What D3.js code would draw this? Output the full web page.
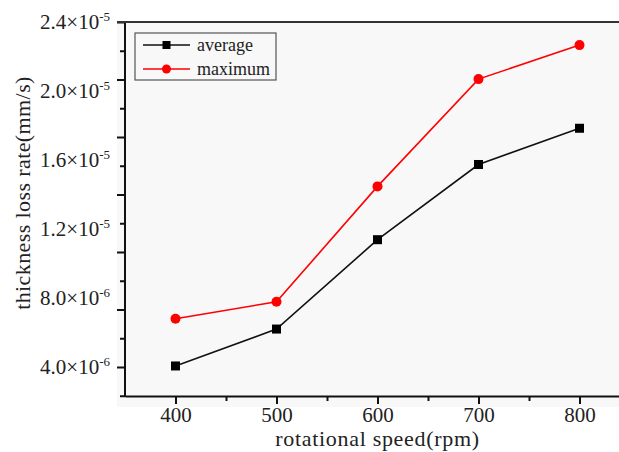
<!DOCTYPE html>
<html>
<head>
<meta charset="utf-8">
<script src="https://cdn.jsdelivr.net/npm/d3@7"></script>
<style>
  body { margin: 0; background: #fff; }
  text { font-family: "Liberation Serif", "DejaVu Serif", serif; fill: #222; }
</style>
</head>
<body>
<div id="chart"></div>
<script>
// data
var speeds = [400, 500, 600, 700, 800];
var averageRate = [4.06e-6, 6.2e-6, 1.138e-5, 1.574e-5, 1.784e-5];
var maximumRate = [6.8e-6, 7.78e-6, 1.447e-5, 2.069e-5, 2.266e-5];
var xTicks = [400, 500, 600, 700, 800];
var yLabels = [4e-6, 8e-6, 1.2e-5, 1.6e-5, 2.0e-5, 2.4e-5];

var svgWidth = 619;
var svgHeight = 452;
var plot = { left: 125, top: 22, right: 619, bottom: 396 };

var svg = d3.select("#chart")
  .append("svg")
  .attr("width", svgWidth)
  .attr("height", svgHeight);

// grey plot background
svg.append("rect")
  .attr("x", 117).attr("y", 21)
  .attr("width", svgWidth - 117).attr("height", 407 - 21)
  .attr("fill", "#f8f8f8");

var xScale = d3.scaleLinear()
  .domain([350, 850])
  .range([plot.left, plot.left + 505]);

// 4.0e-6 sits on y=367, 2.4e-5 on the top border
var yScale = d3.scaleLinear()
  .domain([4e-6, 2.4e-5])
  .range([367, plot.top]);

// x axis: major + minor ticks
var xMinor = d3.range(450, 850, 100);
svg.append("g")
  .attr("transform", `translate(0, ${plot.bottom})`)
  .call(d3.axisBottom(xScale).tickValues(xMinor).tickSize(5).tickFormat(""))
  .call(g => g.select(".domain").remove())
  .call(g => g.selectAll("line").attr("stroke", "#111").attr("stroke-width", 2));

var xAxis = svg.append("g")
  .attr("transform", `translate(0, ${plot.bottom})`)
  .call(d3.axisBottom(xScale).tickValues(xTicks).tickSize(8).tickPadding(3).tickSizeOuter(0));
xAxis.select(".domain").attr("stroke", "#111").attr("stroke-width", 2);
xAxis.selectAll("line").attr("stroke", "#111").attr("stroke-width", 2);
xAxis.selectAll("text")
  .attr("font-size", 21)
  .style("font-family", "Liberation Serif, serif")
  .attr("fill", "#222");

// y axis ticks: 12 even steps between the bottom and top labels
var step = (2.4e-5 - 4e-6) / 12;
var yMajor = d3.range(0, 7).map(i => 4e-6 + i * 2 * step);
var yMinor = d3.range(0, 7).map(i => 4e-6 + (i * 2 - 1) * step);

svg.append("g")
  .attr("transform", `translate(${plot.left}, 0)`)
  .call(d3.axisLeft(yScale).tickValues(yMinor).tickSize(5).tickFormat(""))
  .call(g => g.select(".domain").remove())
  .call(g => g.selectAll("line").attr("stroke", "#111").attr("stroke-width", 2));

svg.append("g")
  .attr("transform", `translate(${plot.left}, 0)`)
  .call(d3.axisLeft(yScale).tickValues(yMajor).tickSize(8).tickFormat(""))
  .call(g => g.select(".domain").remove())
  .call(g => g.selectAll("line").attr("stroke", "#111").attr("stroke-width", 2));

// y axis line
svg.append("line")
  .attr("x1", plot.left).attr("x2", plot.left)
  .attr("y1", plot.top).attr("y2", plot.bottom + 1)
  .attr("stroke", "#111").attr("stroke-width", 2);

// top frame line
svg.append("line")
  .attr("x1", plot.left - 8).attr("x2", plot.right)
  .attr("y1", plot.top).attr("y2", plot.top)
  .attr("stroke", "#333").attr("stroke-width", 2);

// y labels with superscript exponent
var yLabelAxis = svg.append("g")
  .attr("transform", `translate(${plot.left}, 0)`)
  .call(d3.axisLeft(yScale).tickValues(yLabels).tickSize(0).tickPadding(15).tickFormat(""));
yLabelAxis.select(".domain").remove();
yLabelAxis.selectAll(".tick text")
  .attr("font-size", 21)
  .style("font-family", "Liberation Serif, serif")
  .attr("fill", "#222")
  .each(function(d) {
    var parts = d.toExponential(1).split("e");
    var t = d3.select(this);
    t.append("tspan").text(parts[0] + "\u00d710");
    t.append("tspan").attr("font-size", 13).attr("dy", -8).text(parts[1]);
  });

// axis titles
svg.append("text")
  .attr("x", xScale(600))
  .attr("y", 446)
  .attr("text-anchor", "middle")
  .attr("font-size", 22)
  .attr("letter-spacing", 0.7)
  .text("rotational speed(rpm)");

svg.append("text")
  .attr("transform", "translate(30, 193) rotate(-90)")
  .attr("text-anchor", "middle")
  .attr("font-size", 22)
  .attr("letter-spacing", 0.4)
  .text("thickness loss rate(mm/s)");

// lines
var line = d3.line()
  .x((d, i) => xScale(speeds[i]))
  .y(d => yScale(d));

svg.append("path")
  .datum(averageRate)
  .attr("d", line)
  .attr("fill", "none")
  .attr("stroke", "#111")
  .attr("stroke-width", 1.6);

svg.append("path")
  .datum(maximumRate)
  .attr("d", line)
  .attr("fill", "none")
  .attr("stroke", "#ff0000")
  .attr("stroke-width", 1.6);

svg.selectAll(".avgMark")
  .data(averageRate)
  .enter()
  .append("rect")
  .attr("class", "avgMark")
  .attr("x", (d, i) => xScale(speeds[i]) - 4.5)
  .attr("y", d => yScale(d) - 4.5)
  .attr("width", 9)
  .attr("height", 9)
  .attr("fill", "#000");

svg.selectAll(".maxMark")
  .data(maximumRate)
  .enter()
  .append("circle")
  .attr("class", "maxMark")
  .attr("cx", (d, i) => xScale(speeds[i]))
  .attr("cy", d => yScale(d))
  .attr("r", 5)
  .attr("fill", "#ff0000");

// legend
var legend = svg.append("g").attr("transform", "translate(135, 33)");
legend.append("rect")
  .attr("width", 141).attr("height", 47)
  .attr("fill", "#f8f8f8")
  .attr("stroke", "#555").attr("stroke-width", 1.2);

var legendItems = [
  { name: "average", color: "#111", shape: "square" },
  { name: "maximum", color: "#ff0000", shape: "circle" }
];
legendItems.forEach(function(item, i) {
  var row = legend.append("g").attr("transform", `translate(0, ${12 + i * 24})`);
  row.append("line")
    .attr("x1", 8).attr("x2", 55)
    .attr("stroke", item.color).attr("stroke-width", 1.6);
  if (item.shape === "square") {
    row.append("rect").attr("x", 27.5).attr("y", -4).attr("width", 8).attr("height", 8).attr("fill", "#000");
  } else {
    row.append("circle").attr("cx", 31.5).attr("r", 4.5).attr("fill", "#ff0000");
  }
  row.append("text")
    .attr("x", 62).attr("dy", "0.32em")
    .attr("font-size", 18)
    .text(item.name);
});
</script>
</body>
</html>
